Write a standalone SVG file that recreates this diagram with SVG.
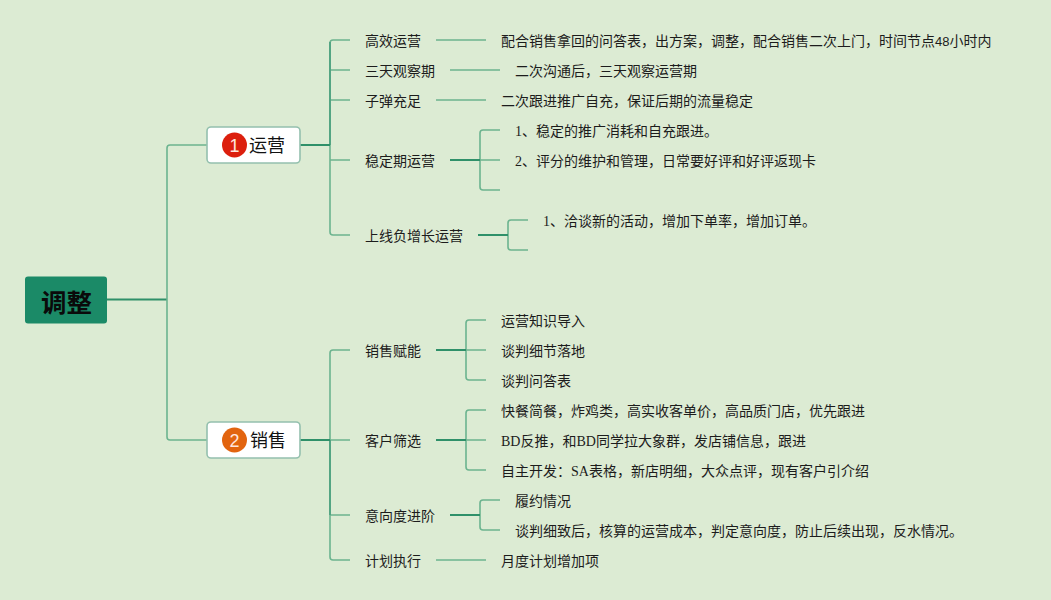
<svg xmlns="http://www.w3.org/2000/svg" width="1051" height="600" viewBox="0 0 1051 600">
<style>
text{font-family:"Liberation Serif","Noto Sans CJK SC",serif;font-size:14px;fill:#1c1c1c}
.c{fill:none;stroke-width:1.6;stroke:#6cb48f}
.s{fill:none;stroke-width:1.8;stroke:#4fa281}
.d{fill:none;stroke-width:2;stroke:#2f9069}
.b{fill:#fff;stroke:#94c0ae;stroke-width:1.6}
.n{font-family:"Liberation Sans",sans-serif;font-size:18px;text-anchor:middle;fill:#ffe6de}
.m{font-family:"Noto Sans CJK SC",sans-serif;font-size:18px;fill:#111}
</style>
<rect width="1051" height="600" fill="#dcebd3"/>
<g id="connectors">
<path class="d" d="M107 299.500H167"/>
<path class="c" d="M207 145H170Q167 145 167 148V437Q167 440 170 440H207"/>
<path class="c" d="M330 145V43Q330 40 333 40H350M330 70H350M330 100H350M330 145V232Q330 235 333 235H350M330 160H350"/>
<path class="s" d="M330 42V145"/>
<path class="d" d="M300 145H330"/>
<path class="c" d="M436 40H486M450 70H500M436 100H486"/>
<path class="c" d="M500 130H483Q480 130 480 133V187Q480 190 483 190H500M480 160H500"/>
<path class="d" d="M450 160H480"/>
<path class="c" d="M528 220H511Q508 220 508 223V247Q508 250 511 250H528"/>
<path class="d" d="M478 235H508"/>
<path class="c" d="M330 440V353Q330 350 333 350H350M330 440H350M330 515H350M330 440V557Q330 560 333 560H350"/>
<path class="s" d="M330 440V515"/>
<path class="d" d="M300 440H330"/>
<path class="c" d="M486 320H469Q466 320 466 323V377Q466 380 469 380H486M466 350H486"/>
<path class="d" d="M436 350H466"/>
<path class="c" d="M486 410H469Q466 410 466 413V467Q466 470 469 470H486M466 440H486"/>
<path class="d" d="M436 440H466"/>
<path class="c" d="M500 500H483Q480 500 480 503V527Q480 530 483 530H500"/>
<path class="d" d="M450 515H480"/>
<path class="c" d="M436 560H486"/>
</g>
<g id="root"><rect x="25" y="276.500" width="82" height="47" rx="3" fill="#1b8a67"/><text class="m" x="41" y="311.500" style="font-size:25.500px;font-weight:700;fill:#0a0a0a">调整</text></g>
<g id="n1"><rect class="b" x="207" y="127" width="93" height="36" rx="4"/><circle cx="234.500" cy="145" r="12.500" fill="#dc1f0d"/><text class="n" x="234.500" y="151.500">1</text><text class="m" x="249" y="152">运营</text></g>
<g id="n2"><rect class="b" x="207" y="422" width="93" height="36" rx="4"/><circle cx="234.500" cy="440" r="12.500" fill="#e2640f"/><text class="n" x="234.500" y="446.500">2</text><text class="m" x="250" y="447">销售</text></g>
<g id="a1"><text x="365" y="46">高效运营</text></g>
<g id="a1t"><text x="501" y="46">配合销售拿回的问答表，出方案，调整，配合销售二次上门，时间节点<tspan style="font-family:'Liberation Sans',sans-serif;font-size:13px">48</tspan>小时内</text></g>
<g id="a2"><text x="365" y="76">三天观察期</text></g>
<g id="a2t"><text x="515" y="76">二次沟通后，三天观察运营期</text></g>
<g id="a3"><text x="365" y="106">子弹充足</text></g>
<g id="a3t"><text x="501" y="106">二次跟进推广自充，保证后期的流量稳定</text></g>
<g id="a4"><text x="365" y="166">稳定期运营</text></g>
<g id="a4a"><text x="515" y="136">1、稳定的推广消耗和自充跟进。</text></g>
<g id="a4b"><text x="515" y="166">2、评分的维护和管理，日常要好评和好评返现卡</text></g>
<g id="a5"><text x="365" y="241">上线负增长运营</text></g>
<g id="a5a"><text x="543" y="226">1、洽谈新的活动，增加下单率，增加订单。</text></g>
<g id="b1"><text x="365" y="356">销售赋能</text></g>
<g id="b1a"><text x="501" y="326">运营知识导入</text></g>
<g id="b1b"><text x="501" y="356">谈判细节落地</text></g>
<g id="b1c"><text x="501" y="386">谈判问答表</text></g>
<g id="b2"><text x="365" y="446">客户筛选</text></g>
<g id="b2a"><text x="501" y="416">快餐简餐，炸鸡类，高实收客单价，高品质门店，优先跟进</text></g>
<g id="b2b"><text x="501" y="446">BD反推，和BD同学拉大象群，发店铺信息，跟进</text></g>
<g id="b2c"><text x="501" y="476">自主开发：SA表格，新店明细，大众点评，现有客户引介绍</text></g>
<g id="b3"><text x="365" y="521">意向度进阶</text></g>
<g id="b3a"><text x="515" y="506">履约情况</text></g>
<g id="b3b"><text x="515" y="536">谈判细致后，核算的运营成本，判定意向度，防止后续出现，反水情况。</text></g>
<g id="b4"><text x="365" y="566">计划执行</text></g>
<g id="b4a"><text x="501" y="566">月度计划增加项</text></g>
</svg>
